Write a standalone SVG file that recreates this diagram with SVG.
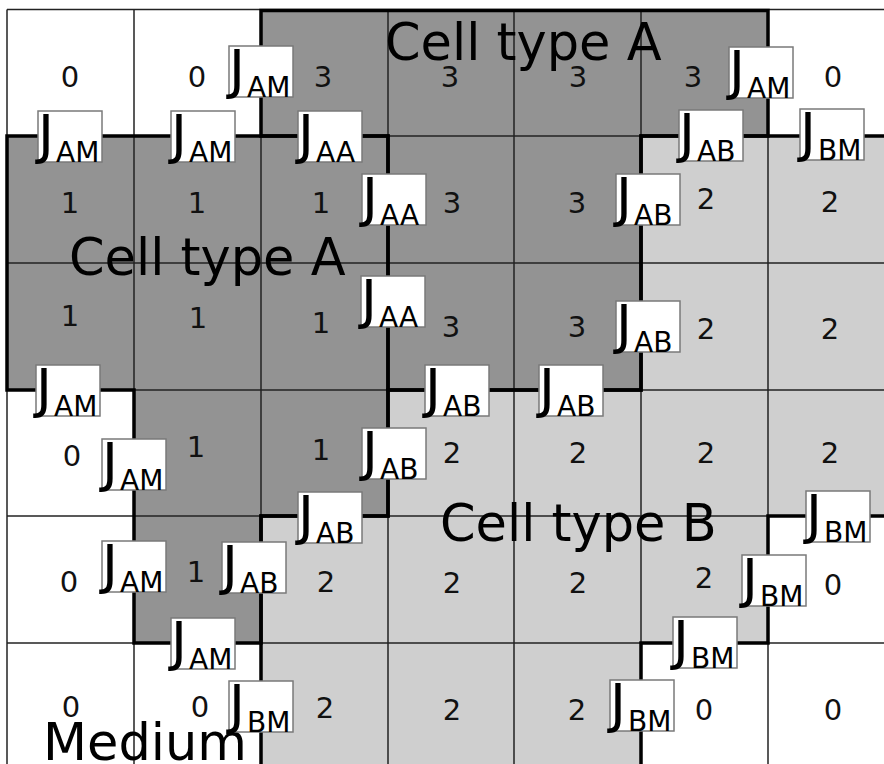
<svg xmlns="http://www.w3.org/2000/svg" width="884" height="764" viewBox="0 0 884 764">
<style>
.grid{stroke:#222;stroke-width:1.5;fill:none}
.cellA{fill:#939393}
.cellB{fill:#cfcfcf}
.outline{fill:none;stroke:#000;stroke-width:3.5;stroke-linejoin:miter}
.num{font-family:"DejaVu Sans",sans-serif;font-size:29px;fill:#111;text-anchor:middle}
.big{font-family:"DejaVu Sans",sans-serif;font-size:51px;fill:#000}
.jbox{fill:#fff;stroke:#7a7a7a;stroke-width:1.5}
.j{font-family:"DejaVu Sans",sans-serif;font-size:54px;fill:#000}
.sub{font-family:"DejaVu Sans",sans-serif;font-size:28px;fill:#000}
</style>
<defs>
<g id="jAM"><rect class="jbox" x="0" y="0" width="64" height="51"/><text class="j" x="0" y="41.5">J</text><text class="sub" x="18" y="51">AM</text></g>
<g id="jAA"><rect class="jbox" x="0" y="0" width="64" height="51"/><text class="j" x="0" y="41.5">J</text><text class="sub" x="18" y="51">AA</text></g>
<g id="jAB"><rect class="jbox" x="0" y="0" width="64" height="51"/><text class="j" x="0" y="41.5">J</text><text class="sub" x="18" y="51">AB</text></g>
<g id="jBM"><rect class="jbox" x="0" y="0" width="64" height="51"/><text class="j" x="0" y="41.5">J</text><text class="sub" x="18" y="51">BM</text></g>
</defs>
<rect x="0" y="0" width="884" height="764" fill="#fff"/>
<g id="cell-3">
<polygon class="cellA" points="261,10 768,10 768,136 641,136 641,390 388,390 388,136 261,136"/>
</g>
<g id="cell-1">
<polygon class="cellA" points="7,136 388,136 388,516 261,516 261,643 134,643 134,390 7,390"/>
</g>
<g id="cell-2">
<polygon class="cellB" points="641,136 890,136 890,516 768,516 768,643 641,643 641,770 261,770 261,516 388,516 388,390 641,390"/>
</g>
<g id="grid">
<line class="grid" x1="7" y1="9.5" x2="7" y2="764"/>
<line class="grid" x1="134" y1="9.5" x2="134" y2="764"/>
<line class="grid" x1="261" y1="9.5" x2="261" y2="764"/>
<line class="grid" x1="388" y1="9.5" x2="388" y2="764"/>
<line class="grid" x1="514" y1="9.5" x2="514" y2="764"/>
<line class="grid" x1="641" y1="9.5" x2="641" y2="764"/>
<line class="grid" x1="768" y1="9.5" x2="768" y2="764"/>
<line class="grid" x1="7" y1="9.5" x2="884" y2="9.5"/>
<line class="grid" x1="7" y1="136" x2="884" y2="136"/>
<line class="grid" x1="7" y1="263" x2="884" y2="263"/>
<line class="grid" x1="7" y1="390" x2="884" y2="390"/>
<line class="grid" x1="7" y1="516" x2="884" y2="516"/>
<line class="grid" x1="7" y1="643" x2="884" y2="643"/>
</g>
<g id="cell-outlines">
<polygon class="outline" points="261,10.5 768,10.5 768,136 641,136 641,390 388,390 388,136 261,136"/>
<polygon class="outline" points="7,136 388,136 388,516 261,516 261,643 134,643 134,390 7,390"/>
<polyline class="outline" points="261,770 261,516 388,516 388,390 641,390 641,136 890,136"/>
<polyline class="outline" points="890,516 768,516 768,643 641,643 641,770"/>
</g>
<g id="numbers">
<text class="num" x="70" y="87">0</text><text class="num" x="197" y="87">0</text><text class="num" x="323" y="87">3</text><text class="num" x="450" y="87">3</text><text class="num" x="578" y="87">3</text><text class="num" x="693" y="87">3</text><text class="num" x="833" y="87">0</text>
<text class="num" x="70" y="213">1</text><text class="num" x="197" y="213">1</text><text class="num" x="321" y="213">1</text><text class="num" x="452" y="213">3</text><text class="num" x="577" y="213">3</text><text class="num" x="706" y="209">2</text><text class="num" x="830" y="212">2</text>
<text class="num" x="70" y="326">1</text><text class="num" x="198" y="328">1</text><text class="num" x="321" y="333">1</text><text class="num" x="451" y="337">3</text><text class="num" x="577" y="337">3</text><text class="num" x="706" y="339">2</text><text class="num" x="830" y="339">2</text>
<text class="num" x="72" y="466">0</text><text class="num" x="196" y="457">1</text><text class="num" x="321" y="460">1</text><text class="num" x="452" y="463">2</text><text class="num" x="578" y="463">2</text><text class="num" x="706" y="463">2</text><text class="num" x="830" y="463">2</text>
<text class="num" x="69" y="592">0</text><text class="num" x="196" y="582">1</text><text class="num" x="326" y="592">2</text><text class="num" x="452" y="593">2</text><text class="num" x="578" y="593">2</text><text class="num" x="704" y="588">2</text><text class="num" x="833" y="595">0</text>
<text class="num" x="71" y="717">0</text><text class="num" x="200" y="717">0</text><text class="num" x="325" y="718">2</text><text class="num" x="452" y="720">2</text><text class="num" x="577" y="720">2</text><text class="num" x="704" y="720">0</text><text class="num" x="833" y="720">0</text>
</g>
<g id="region-labels">
<text class="big" x="385" y="60">Cell type A</text>
<text class="big" x="69" y="275">Cell type A</text>
<text class="big" x="440" y="541">Cell type B</text>
<text class="big" x="43" y="760">Medium</text>
</g>
<g id="j-labels">
<use id="j1" href="#jAM" x="229" y="46"/>
<use id="j2" href="#jAM" x="729" y="47"/>
<use id="j3" href="#jAM" x="38" y="111"/>
<use id="j4" href="#jAM" x="171" y="111"/>
<use id="j5" href="#jAA" x="298" y="111"/>
<use id="j6" href="#jAB" x="679" y="110"/>
<use id="j7" href="#jBM" x="800" y="109"/>
<use id="j8" href="#jAA" x="362" y="174"/>
<use id="j9" href="#jAB" x="616" y="174"/>
<use id="j10" href="#jAA" x="361" y="276"/>
<use id="j11" href="#jAB" x="616" y="301"/>
<use id="j12" href="#jAM" x="36" y="365"/>
<use id="j13" href="#jAB" x="425" y="365"/>
<use id="j14" href="#jAB" x="539" y="365"/>
<use id="j15" href="#jAB" x="362" y="428"/>
<use id="j16" href="#jAM" x="102" y="439"/>
<use id="j17" href="#jAB" x="298" y="492"/>
<use id="j18" href="#jBM" x="806" y="491"/>
<use id="j19" href="#jAM" x="102" y="541"/>
<use id="j20" href="#jAB" x="222" y="542"/>
<use id="j21" href="#jBM" x="742" y="555"/>
<use id="j22" href="#jAM" x="171" y="618"/>
<use id="j23" href="#jBM" x="673" y="617"/>
<use id="j24" href="#jBM" x="229" y="681"/>
<use id="j25" href="#jBM" x="610" y="680"/>
</g>
</svg>
